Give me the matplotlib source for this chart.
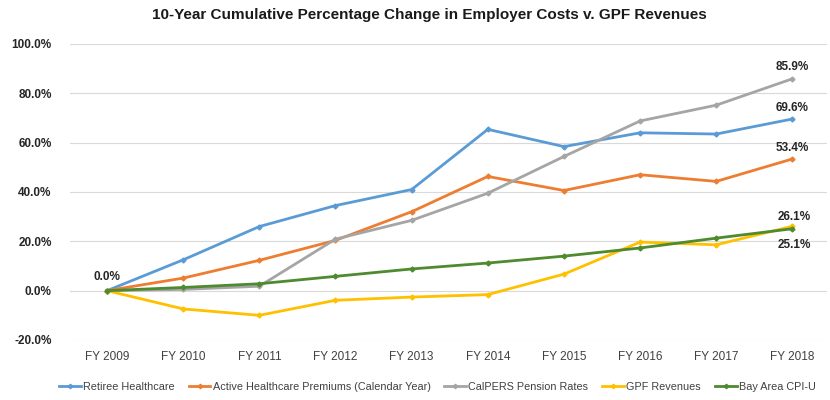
import matplotlib.pyplot as plt

anos = ["FY 2009", "FY 2010", "FY 2011", "FY 2012", "FY 2013",
        "FY 2014", "FY 2015", "FY 2016", "FY 2017", "FY 2018"]

retiree = [0.0, 12.5, 26.0, 34.5, 41.0, 65.4, 58.4, 64.0, 63.5, 69.6]
active = [0.0, 5.1, 12.3, 20.4, 32.0, 46.3, 40.6, 47.0, 44.3, 53.4]
calpers = [0.0, 0.5, 1.8, 20.9, 28.5, 39.5, 54.4, 68.8, 75.2, 85.9]
gpf = [0.0, -7.4, -10.0, -3.9, -2.6, -1.6, 6.7, 19.7, 18.6, 26.1]
cpi = [0.0, 1.3, 2.8, 5.8, 8.8, 11.2, 14.0, 17.3, 21.3, 25.1]

series = [
    ("Retiree Healthcare", retiree, "#5B9BD5"),
    ("Active Healthcare Premiums (Calendar Year)", active, "#ED7D31"),
    ("CalPERS Pension Rates", calpers, "#A5A5A5"),
    ("GPF Revenues", gpf, "#FFC000"),
    ("Bay Area CPI-U", cpi, "#4E8A2E"),
]

plt.rcParams['font.family'] = ['Liberation Sans', 'DejaVu Sans']

fig = plt.figure(figsize=(8.3, 4.0), dpi=100)
ax = fig.add_axes([0.084, 0.15, 0.912, 0.74])

x = list(range(len(anos)))
for nome, valores, cor in series:
    ax.plot(x, valores, color=cor, lw=2, marker='D', ms=2.5, label=nome)

# rotulos dos valores
estilo = dict(ha='center', fontsize=8.5, fontweight='bold', color='#262626')
ax.text(0, retiree[0] + 3, f"{retiree[0]:.1f}%", va='bottom', **estilo)
ax.text(9, calpers[-1] + 2.3, f"{calpers[-1]:.1f}%", va='bottom', **estilo)
ax.text(9, retiree[-1] + 2.0, f"{retiree[-1]:.1f}%", va='bottom', **estilo)
ax.text(9, active[-1] + 2.0, f"{active[-1]:.1f}%", va='bottom', **estilo)
ax.text(9.02, gpf[-1] + 1.2, f"{gpf[-1]:.1f}%", va='bottom', **estilo)
ax.text(9.02, cpi[-1] - 4.3, f"{cpi[-1]:.1f}%", va='top', **estilo)

ax.set_xlim(-0.49, 9.45)
ax.set_ylim(-20, 100)
ax.set_yticks(range(-20, 101, 20))
ax.set_yticklabels([f"{v:.1f}%" for v in range(-20, 101, 20)], fontweight='bold', fontsize=8.5, color='#262626')
ax.set_xticks(x)
ax.set_xticklabels(anos, fontsize=8.5, color='#404040')
ax.tick_params(axis='x', length=0, pad=8)
ax.tick_params(axis='y', length=0, pad=13)
ax.grid(axis='y', color='#D9D9D9', lw=0.8)
ax.set_axisbelow(True)
for lado in ax.spines.values():
    lado.set_visible(False)

fig.text(0.517, 0.962, "10-Year Cumulative Percentage Change in Employer Costs v. GPF Revenues",
         ha='center', va='center', fontsize=11, fontweight='bold', color='#1a1a1a')

leg = fig.legend(loc='center', bbox_to_anchor=(0.527, 0.032), ncol=5, frameon=False,
                 prop={'size': 7.8}, handlelength=2.0, markerscale=0.9,
                 handletextpad=0.2, columnspacing=1.3)
for t in leg.get_texts():
    t.set_color('#404040')

fig.savefig("out.png", dpi=100)
